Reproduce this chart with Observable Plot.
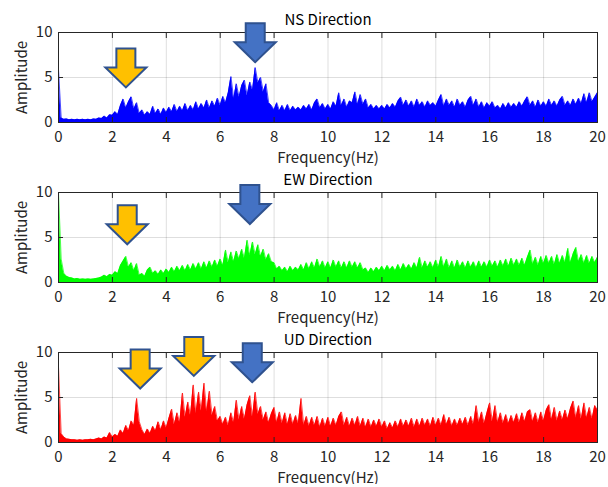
<!DOCTYPE html>
<html>
<head>
<meta charset="utf-8">
<script src="https://cdn.jsdelivr.net/npm/d3@7"></script>
<script src="https://cdn.jsdelivr.net/npm/@observablehq/plot@0.6"></script>
<style>
  body { margin: 0; background: #fff; }
  #chart { padding-top: 4px; }
  #chart svg { display: block; }
</style>
</head>
<body>
<div id="chart"></div>
<script>
// Frequency sampling (Hz)
const freqStart = 0, freqStep = 0.1;
const xTicks = [0, 2, 4, 6, 8, 10, 12, 14, 16, 18, 20];
const yTicks = [0, 5, 10];
const titles = ["NS Direction", "EW Direction", "UD Direction"];
const colors = ["#0000FF", "#00FF00", "#FF0000"];

// Spectrum amplitudes (one value every 0.1 Hz, 0–20 Hz)
const nsAmp = [
  5.9,0.5,0.35,0.4,0.3,0.35,0.3,0.35,0.3,0.35,
  0.3,0.35,0.3,0.4,0.35,0.5,0.45,0.7,0.5,0.85,
  0.8,1.2,0.9,1.9,2.6,1.6,2.3,2.85,1.5,2.2,
  1.0,1.4,0.8,1.2,0.9,1.8,1.0,1.5,0.9,1.6,
  1.1,1.7,1.2,2.0,1.2,1.8,1.3,2.1,1.3,1.9,
  1.4,2.3,1.5,2.1,1.6,2.5,1.6,2.4,1.8,2.7,
  1.9,2.9,2.2,3.3,5.1,2.6,4.3,2.8,4.1,4.7,
  3.0,4.5,3.6,6.1,4.4,5.0,3.4,4.3,2.2,1.9,
  1.4,2.2,1.3,1.9,1.3,2.0,1.3,1.8,1.4,1.7,
  1.4,1.9,1.5,2.0,1.4,2.2,2.6,1.6,2.1,1.5,
  2.0,1.5,2.3,1.8,3.3,1.9,2.6,1.7,2.4,2.2,
  3.4,2.0,3.1,2.0,2.6,1.6,2.0,1.5,1.9,1.5,
  1.9,1.5,2.0,1.6,2.1,1.7,2.4,2.8,1.9,2.5,
  1.8,2.4,1.7,2.6,1.9,2.3,1.7,2.4,1.9,2.2,
  1.8,2.5,3.1,1.8,2.6,1.9,2.4,1.7,2.6,1.9,
  2.3,1.7,2.5,2.9,1.9,2.6,1.7,2.3,1.6,2.2,
  1.8,2.3,1.6,1.9,1.5,2.1,1.6,2.2,1.7,2.1,
  1.7,2.3,1.8,2.4,2.85,1.9,2.4,1.7,2.5,1.8,
  2.3,1.8,2.6,1.9,2.4,1.8,2.5,2.9,1.9,2.4,
  1.9,2.6,2.0,2.7,2.1,3.2,2.2,3.3,2.3,2.8,
  3.3
];
const ewAmp = [
  10,2.6,1.0,0.7,0.55,0.5,0.4,0.45,0.35,0.4,
  0.35,0.4,0.35,0.4,0.45,0.5,0.6,0.8,0.65,0.9,
  0.8,1.2,1.0,1.9,2.4,2.9,1.7,2.2,1.3,2.1,
  0.8,1.0,0.7,1.4,1.7,1.0,1.3,0.9,1.4,1.0,
  1.5,1.1,1.7,1.2,1.8,1.3,1.9,1.3,2.0,1.4,
  2.1,1.5,2.2,1.5,2.3,1.6,2.4,1.7,2.5,1.8,
  2.6,1.9,3.6,2.2,3.4,2.3,3.5,2.6,3.7,2.7,
  4.7,3.0,4.5,3.1,4.2,2.9,3.7,2.5,3.2,2.3,
  2.2,1.5,1.8,1.3,1.7,1.2,1.8,1.3,1.7,1.4,
  2.0,1.4,2.2,1.5,2.3,1.6,2.6,1.7,2.4,1.6,
  2.3,1.6,2.5,1.7,2.4,1.6,2.3,1.6,2.4,1.7,
  2.3,1.6,2.2,1.4,1.6,1.1,1.6,1.2,1.7,1.3,
  1.8,1.3,1.9,1.4,1.8,1.3,2.0,1.4,2.1,1.5,
  2.0,1.5,2.2,1.6,2.8,1.6,2.4,1.7,2.3,1.6,
  2.5,1.7,2.9,1.7,2.6,1.6,2.4,1.6,2.5,1.7,
  2.3,1.6,2.4,1.7,2.3,1.6,2.4,1.7,2.3,1.7,
  2.5,1.8,2.4,1.7,2.5,1.8,2.6,1.8,2.7,1.9,
  2.6,1.9,2.7,1.9,2.8,3.6,2.0,2.8,1.9,2.9,
  2.1,3.0,2.1,2.9,2.0,3.1,2.1,3.0,2.2,3.8,
  2.2,3.2,3.9,2.3,3.1,2.1,3.0,2.1,2.9,2.2,
  2.8
];
const udAmp = [
  8.45,1.0,0.6,0.4,0.35,0.3,0.3,0.25,0.3,0.25,
  0.3,0.3,0.35,0.3,0.4,0.5,0.4,0.6,0.5,1.1,
  0.6,0.9,0.7,1.4,1.0,1.9,1.3,2.4,1.9,4.9,
  2.3,1.4,0.9,1.5,1.0,1.8,1.3,2.3,1.4,2.4,
  1.6,2.7,3.7,2.0,3.3,2.2,5.5,2.8,4.5,3.0,
  6.4,3.2,5.6,3.5,6.6,3.4,5.7,3.0,4.0,2.4,
  2.9,2.0,2.8,1.9,3.3,2.2,4.7,2.5,4.0,2.6,
  4.2,5.2,2.8,5.6,3.1,4.0,2.5,3.4,2.2,3.2,
  3.9,2.2,3.4,2.1,3.3,2.0,3.2,2.0,3.0,2.1,
  4.9,1.9,2.9,1.8,2.8,1.9,2.9,1.7,2.7,1.8,
  2.8,1.8,2.7,1.9,2.9,3.4,1.9,2.8,1.8,2.7,
  1.9,2.9,1.8,2.7,1.7,2.6,1.7,2.5,1.8,2.6,
  1.7,2.4,1.5,2.2,1.6,2.4,1.7,2.6,1.8,2.5,
  1.8,2.7,1.7,2.6,1.8,2.7,1.9,2.6,1.8,2.8,
  1.9,2.7,1.9,3.1,2.0,2.8,1.8,2.6,1.9,2.7,
  2.0,2.8,1.9,2.9,2.0,4.1,2.2,3.4,2.1,3.3,
  4.4,2.3,4.1,2.2,3.3,2.1,3.1,2.1,3.0,2.2,
  3.2,2.2,3.3,2.3,3.4,3.65,2.3,3.3,2.2,3.4,
  2.4,3.6,4.2,2.5,3.9,2.4,3.5,2.5,3.6,2.6,
  3.8,4.6,2.7,4.1,2.6,4.4,2.7,3.9,2.6,4.1,
  3.6
];

// Arrow annotations: frequency, amplitude at the arrow tip, kind
const nsArrowF = [2.5, 7.3],  nsArrowA = [3.9, 6.7],  nsArrowKind = ["yellow", "blue"];
const ewArrowF = [2.55, 7.1], ewArrowA = [4.25, 6.5], ewArrowKind = ["yellow", "blue"];
const udArrowF = [3.03, 5.02, 7.19], udArrowA = [6.0, 7.4, 6.7], udArrowKind = ["yellow", "yellow", "blue"];
const arrowFill = {yellow: "#FFC000", blue: "#4472C4"};

// Block arrow symbol, tip at the anchor point
const arrowSymbol = {
  draw(ctx) {
    ctx.moveTo(0, 0);
    ctx.lineTo(-20.5, -20);
    ctx.lineTo(-9.5, -20);
    ctx.lineTo(-9.5, -39);
    ctx.lineTo(9.5, -39);
    ctx.lineTo(9.5, -20);
    ctx.lineTo(20.5, -20);
    ctx.closePath();
  }
};

const font = "'Noto Sans CJK JP', 'Noto Sans', sans-serif";
const ink = "#262626";
const blank = () => "";

function panel(title, amp, color, aF, aA, aK) {
  const data = amp.map((a, i) => ({f: freqStart + i * freqStep, a}));
  const arrows = aF.map((f, i) => ({f, a: aA[i], kind: aK[i]}));
  return Plot.plot({
    width: 608, height: 160,
    marginLeft: 58, marginRight: 11, marginTop: 28, marginBottom: 42,
    style: {fontFamily: font, fontSize: "15px", color: ink, background: "#fff", overflow: "visible"},
    x: {domain: [0, 20]},
    y: {domain: [0, 10]},
    marks: [
      Plot.gridX(xTicks, {stroke: "#000", strokeOpacity: 0.13}),
      Plot.gridY(yTicks, {stroke: "#000", strokeOpacity: 0.13}),
      Plot.areaY(data, {x: "f", y: "a", fill: color}),
      Plot.lineY(data, {x: "f", y: "a", stroke: color, strokeWidth: 0.7}),
      Plot.axisX(xTicks, {anchor: "bottom", tickSize: 0, tickPadding: 9, fontSize: 15,
        label: "Frequency(Hz)", labelAnchor: "center", labelArrow: "none", labelOffset: 40}),
      Plot.axisX(xTicks, {anchor: "top", tickSize: -5, tickFormat: blank, label: null, stroke: ink}),
      Plot.axisX(xTicks, {anchor: "bottom", tickSize: -5, tickFormat: blank, label: null, stroke: ink}),
      Plot.axisY(yTicks, {anchor: "left", tickSize: 0, tickPadding: 6, fontSize: 15,
        label: "Amplitude", labelAnchor: "center", labelArrow: "none", labelOffset: 42}),
      Plot.axisY(yTicks, {anchor: "left", tickSize: -5, tickFormat: blank, label: null, stroke: ink}),
      Plot.axisY(yTicks, {anchor: "right", tickSize: -5, tickFormat: blank, label: null, stroke: ink}),
      Plot.frame({stroke: ink, strokeWidth: 1}),
      Plot.text([title], {frameAnchor: "top", lineAnchor: "middle", dy: -12, fontSize: 15, fill: "#000"}),
      Plot.dot(arrows, {x: "f", y: "a", symbol: arrowSymbol, fill: d => arrowFill[d.kind],
        stroke: "#2F528F", strokeWidth: 2, r: 10})
    ]
  });
}

const root = document.getElementById("chart");
root.append(panel(titles[0], nsAmp, colors[0], nsArrowF, nsArrowA, nsArrowKind));
root.append(panel(titles[1], ewAmp, colors[1], ewArrowF, ewArrowA, ewArrowKind));
root.append(panel(titles[2], udAmp, colors[2], udArrowF, udArrowA, udArrowKind));
</script>
</body>
</html>
